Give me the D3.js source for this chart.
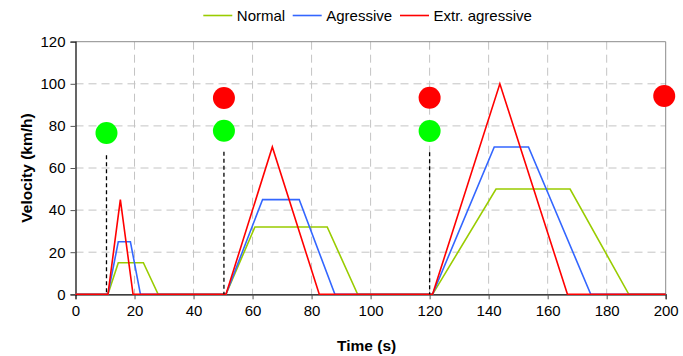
<!DOCTYPE html>
<html>
<head>
<meta charset="utf-8">
<script src="https://cdn.jsdelivr.net/npm/d3@7"></script>
<style>
  html, body { margin: 0; padding: 0; background: #fff; }
  svg { display: block; font-family: "Liberation Sans", Arial, sans-serif; }
</style>
</head>
<body>
<svg id="chart" width="683" height="356"></svg>
<script>
// Velocity profiles per driving style (time in s, velocity in km/h)
const normalT = [0, 11, 14.5, 23, 28, 51, 60.8, 85.3, 95.6, 121, 142.5, 167.6, 187.5, 200];
const normalV = [0, 0, 15, 15, 0, 0, 32, 32, 0, 0, 50, 50, 0, 0];
const agressiveT = [0, 11, 14.5, 18.6, 22, 51, 63.4, 75.8, 87.9, 121, 141.9, 153.5, 174.6, 200];
const agressiveV = [0, 0, 25, 25, 0, 0, 45, 45, 0, 0, 70, 70, 0, 0];
const extremeT = [0, 11, 15.2, 19.5, 51, 66.7, 82.6, 121, 143.8, 166.7, 200];
const extremeV = [0, 0, 45, 0, 0, 70, 0, 0, 100, 0, 0];

// Traffic lights: green (go) and red (stop) signals
const greenLightT = [10.5, 50.3, 120];
const greenLightV = [76.6, 77.7, 77.6];
const redLightT = [50.3, 120, 199.5];
const redLightV = [93.3, 93.4, 94.2];
// Dashed marker lines below the green signals
const markerT = [10.5, 50.3, 120];
const markerTop = [66, 67.7, 67.5];

const xTicks = [0, 20, 40, 60, 80, 100, 120, 140, 160, 180, 200];
const yTicks = [0, 20, 40, 60, 80, 100, 120];

const seriesNames = ["Normal", "Agressive", "Extr. agressive"];
const seriesColors = ["#99cc00", "#3366ff", "#ff0000"];

const svg = d3.select("#chart");
const plotLeft = 75.5, plotRight = 665.7, plotTop = 41.7, plotBottom = 294.3;

const x = d3.scaleLinear().domain([0, 200]).range([plotLeft, plotRight]);
const y = d3.scaleLinear().domain([0, 120]).range([plotBottom, plotTop]);

// Dashed grid
const grid = svg.append("g");
grid.selectAll("line.h").data(yTicks.filter(v => v > 0 && v < 120)).enter().append("line")
  .attr("x1", plotLeft).attr("x2", plotRight)
  .attr("y1", d => y(d)).attr("y2", d => y(d))
  .attr("stroke", "#c4c4c4").attr("stroke-width", 1).attr("stroke-dasharray", "8,5");
grid.selectAll("line.v").data(xTicks.filter(v => v > 0 && v < 200)).enter().append("line")
  .attr("y1", plotTop).attr("y2", plotBottom)
  .attr("x1", d => x(d)).attr("x2", d => x(d))
  .attr("stroke", "#c4c4c4").attr("stroke-width", 1).attr("stroke-dasharray", "8,5");

// Plot frame: top and right edges
svg.append("line").attr("x1", plotLeft).attr("x2", plotRight).attr("y1", plotTop).attr("y2", plotTop)
  .attr("stroke", "#8c8c8c").attr("stroke-width", 1);
svg.append("line").attr("x1", plotRight).attr("x2", plotRight).attr("y1", plotTop).attr("y2", plotBottom)
  .attr("stroke", "#8c8c8c").attr("stroke-width", 1);

// Axes
const xAxis = svg.append("g").attr("transform", `translate(0,${plotBottom})`)
  .call(d3.axisBottom(x).tickValues(xTicks).tickSize(5).tickPadding(6).tickFormat(d3.format("d")));
const yAxis = svg.append("g").attr("transform", `translate(${plotLeft},0)`)
  .call(d3.axisLeft(y).tickValues(yTicks).tickSize(5).tickPadding(5).tickFormat(d3.format("d")));
[xAxis, yAxis].forEach(a => {
  a.select(".domain").attr("stroke", "#000").attr("stroke-width", 1.2);
  a.selectAll(".tick line").attr("stroke", "#555");
  a.selectAll(".tick text").attr("font-size", 15).attr("fill", "#000")
    .attr("font-family", "'Liberation Sans', Arial, sans-serif");
});

// Axis titles
svg.append("text").attr("x", x(100) - 4).attr("y", 351).attr("text-anchor", "middle")
  .attr("font-size", 15.5).attr("font-weight", "bold").text("Time (s)");
svg.append("text").attr("transform", `translate(32,${(plotTop + plotBottom) / 2}) rotate(-90)`)
  .attr("text-anchor", "middle").attr("font-size", 15.5).attr("font-weight", "bold")
  .text("Velocity (km/h)");

// Velocity lines
const line = d3.line().x(d => x(d[0])).y(d => y(d[1]));
const series = [
  d3.zip(normalT, normalV),
  d3.zip(agressiveT, agressiveV),
  d3.zip(extremeT, extremeV)
];
svg.append("g").selectAll("path").data(series).enter().append("path")
  .attr("d", line).attr("fill", "none")
  .attr("stroke", (d, i) => seriesColors[i]).attr("stroke-width", 1.6)
  .attr("stroke-linejoin", "miter");

// Dashed marker lines
svg.append("g").selectAll("line").data(d3.zip(markerT, markerTop)).enter().append("line")
  .attr("x1", d => x(d[0])).attr("x2", d => x(d[0]))
  .attr("y1", d => y(d[1])).attr("y2", y(0))
  .attr("stroke", "#000").attr("stroke-width", 1.3).attr("stroke-dasharray", "4,3");

// Traffic light circles
svg.append("g").selectAll("circle").data(d3.zip(greenLightT, greenLightV)).enter().append("circle")
  .attr("cx", d => x(d[0])).attr("cy", d => y(d[1])).attr("r", 11).attr("fill", "#00ff00");
svg.append("g").selectAll("circle").data(d3.zip(redLightT, redLightV)).enter().append("circle")
  .attr("cx", d => x(d[0])).attr("cy", d => y(d[1])).attr("r", 11).attr("fill", "#ff0000");

// Legend
const legendX = [203.3, 292.7, 400];
const legend = svg.append("g").selectAll("g").data(seriesNames).enter().append("g")
  .attr("transform", (d, i) => `translate(${legendX[i]},15.5)`);
legend.append("line").attr("x1", 0).attr("x2", 29).attr("y1", 0).attr("y2", 0)
  .attr("stroke", (d, i) => seriesColors[i]).attr("stroke-width", 1.6);
legend.append("text").attr("x", 33.5).attr("y", 5.5).attr("font-size", 15).attr("fill", "#000")
  .text(d => d);
</script>
</body>
</html>
